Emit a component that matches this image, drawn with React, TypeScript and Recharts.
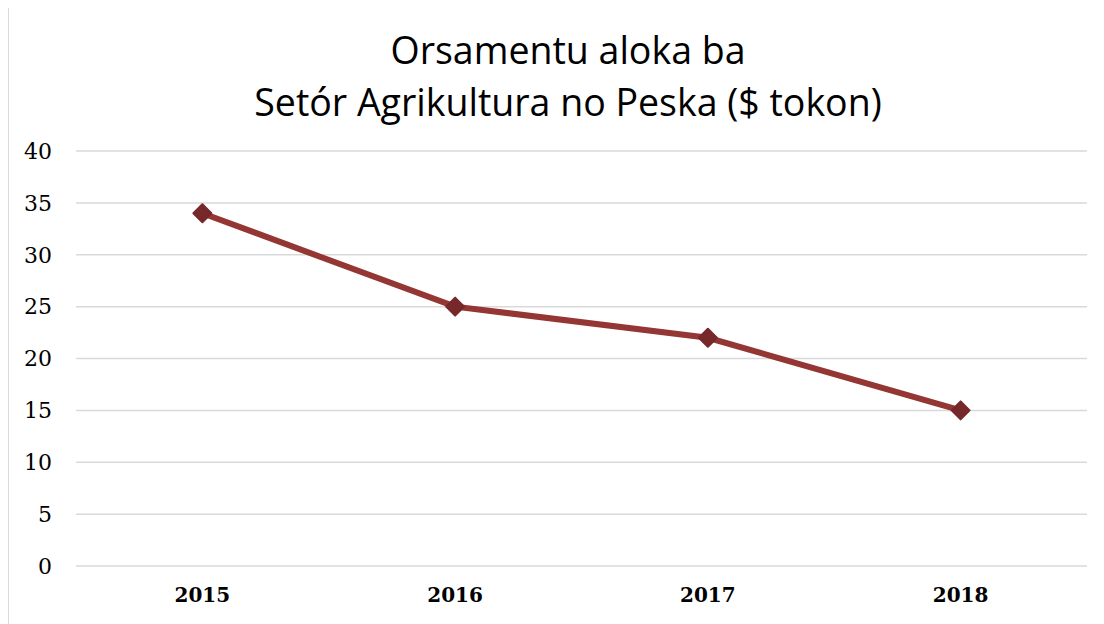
import React from 'react';
import { LineChart, Line, XAxis, YAxis, CartesianGrid } from 'recharts';

// values (millions of $)
const years = ['2015', '2016', '2017', '2018'];
const budget = [34, 25, 22, 15];
const yTicks = [0, 5, 10, 15, 20, 25, 30, 35, 40];

const data = years.map((year, i) => ({ year, value: budget[i] }));

const LINE_COLOR = '#943634';
const MARKER_COLOR = '#76282a';

function Diamond(props: any) {
  const { cx, cy } = props;
  if (cx == null || cy == null) return null;
  const r = 9;
  return (
    <path
      d={`M${cx},${cy - r} L${cx + r},${cy} L${cx},${cy + r} L${cx - r},${cy} Z`}
      fill={MARKER_COLOR}
      stroke={MARKER_COLOR}
      strokeWidth={2}
      strokeLinejoin="round"
    />
  );
}

export default function App() {
  return (
    <div
      style={{
        position: 'relative',
        width: 1100,
        height: 620,
        marginTop: -2,
        border: '1px solid #d9d9d9',
        background: '#fff',
        boxSizing: 'border-box',
      }}
    >
      <div
        style={{
          position: 'absolute',
          left: 0,
          top: 17,
          width: 1118,
          textAlign: 'center',
          fontFamily: '"Open Sans", sans-serif',
          fontSize: 37.5,
          lineHeight: '52px',
          color: '#000',
        }}
      >
        Orsamentu aloka ba
        <br />
        Setór Agrikultura no Peska ($ tokon)
      </div>
      <LineChart
        width={1094}
        height={617}
        data={data}
        margin={{ top: 144, right: 16, bottom: 18, left: 7 }}
      >
        <CartesianGrid vertical={false} stroke="#d9d9d9" strokeWidth={1.5} />
        <XAxis
          dataKey="year"
          scale="band"
          axisLine={false}
          tickLine={false}
          height={40}
          tickMargin={16}
          tick={{ fill: '#000', fontSize: 20, fontWeight: 'bold', fontFamily: '"DejaVu Serif", serif' }}
        />
        <YAxis
          domain={[0, 40]}
          ticks={yTicks}
          axisLine={false}
          tickLine={false}
          width={60}
          tickMargin={18}
          tick={{ fill: '#000', fontSize: 22, fontFamily: '"DejaVu Serif", serif' }}
        />
        <Line
          type="linear"
          dataKey="value"
          stroke={LINE_COLOR}
          strokeWidth={6}
          dot={<Diamond />}
          activeDot={false}
          isAnimationActive={false}
        />
      </LineChart>
    </div>
  );
}
